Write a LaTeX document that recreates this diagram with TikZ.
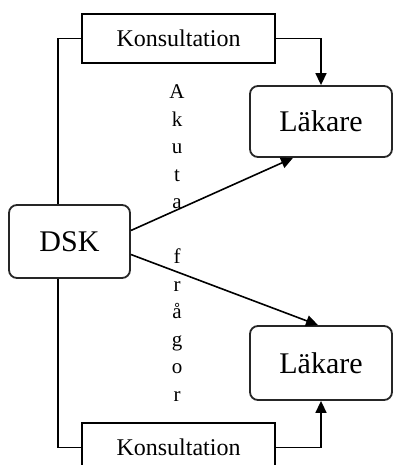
\documentclass[tikz,border=0pt]{standalone}
\usepackage{fontspec}
\setmainfont{Liberation Serif}
\usetikzlibrary{arrows.meta,calc}
\begin{document}
\begin{tikzpicture}[x=1pt,y=-1pt,
  konsbox/.style={draw,line width=1.6pt,minimum width=193pt,minimum height=49pt,inner sep=0pt,font=\fontsize{24}{28}\selectfont},
  rbox/.style={draw,line width=1.8pt,draw=black!85,rounded corners=8pt,inner sep=0pt,font=\fontsize{30}{34}\selectfont},
  link/.style={line width=1.6pt},
  arr/.style={line width=1.6pt,-{Triangle[length=12pt,width=11pt]}}]
\useasboundingbox (0,0) rectangle (393,465);
\clip (0,0) rectangle (393,465);
\fill[white] (0,0) rectangle (393,465);

\node[konsbox] (k1) at (178.5,38.5) {Konsultation};
\node[konsbox] (k2) at (178.5,447.5) {Konsultation};
\node[rbox,minimum width=142pt,minimum height=71pt] (l1) at (321,121.5) {Läkare};
\node[rbox,minimum width=142pt,minimum height=74pt] (l2) at (321,363) {Läkare};
\node[rbox,minimum width=121pt,minimum height=73pt] (dsk) at (69.5,241.5) {DSK};
\node[align=center,inner sep=0pt,font=\fontsize{21}{27.5}\selectfont] (akut) at (177,243)
  {A\\k\\u\\t\\a\\\mbox{}\\f\\r\\å\\g\\o\\r};

\coordinate (lx) at (58,0);
\draw[link] (k1.west) -| (dsk.north -| lx);
\draw[link] (dsk.south -| lx) |- (k2.west);
\draw[arr] (k1.east) -| (l1.north);
\draw[arr] (k2.east) -| (l2.south);
\draw[arr] ([yshift=11pt]dsk.east) -- ([xshift=-28pt]l1.south);
\draw[arr] ([yshift=-13pt]dsk.east) -- ([xshift=-3pt]l2.north);
\end{tikzpicture}
\end{document}
